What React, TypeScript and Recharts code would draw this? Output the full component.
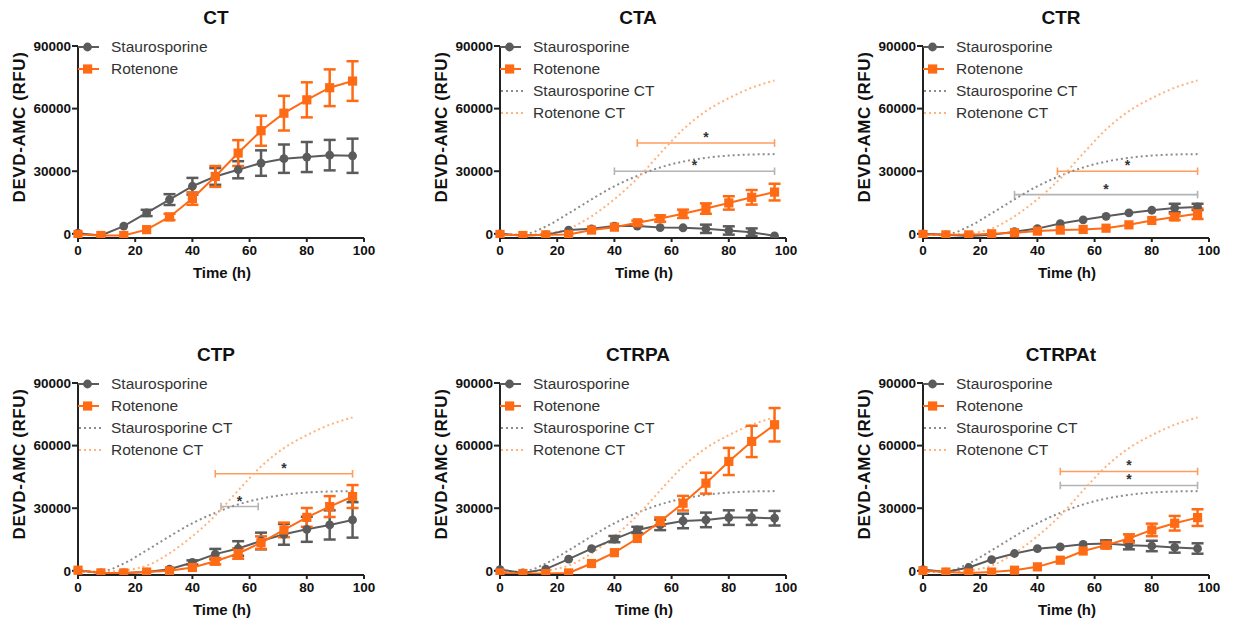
import React from 'react';
import { LineChart, Line, XAxis, YAxis, ErrorBar, ReferenceLine, Legend } from 'recharts';

const TIME = [0, 8, 16, 24, 32, 40, 48, 56, 64, 72, 80, 88, 96];

// dotted CT reference curves (fits of the CT panel)
const STAURO_CT_FIT = [-500, -300, 3500, 9800, 16500, 22800, 27800, 31800, 34600, 36400, 37500, 38000, 38200];
const ROT_CT_FIT = [-300, -400, 200, 2500, 8400, 16600, 26500, 38500, 50000, 58800, 65000, 70000, 73500];

const CT_S = [300, -800, 3700, 10000, 16400, 22800, 27500, 30700, 33900, 36000, 36800, 37700, 37400];
const CT_S_ERR = [0, 0, 0, 1500, 2600, 4000, 4000, 4100, 6100, 6800, 7200, 7300, 8200];
const CT_R = [-300, -800, -800, 2000, 8100, 16900, 27500, 38700, 49400, 57800, 64200, 70000, 73200];
const CT_R_ERR = [0, 0, 0, 0, 1500, 3000, 5000, 6200, 7200, 8300, 8400, 8800, 9500];

const CTA_S = [0, -800, -500, 1800, 2400, 3700, 3700, 3000, 2900, 2400, 1600, 800, -1000];
const CTA_S_ERR = [0, 0, 0, 0, 0, 0, 0, 0, 0, 2000, 2000, 1800, 0];
const CTA_R = [-300, -800, -500, -300, 1800, 3200, 5300, 7300, 9600, 12100, 14800, 17500, 20000];
const CTA_R_ERR = [0, 0, 0, 0, 0, 0, 1000, 1500, 2000, 2500, 3200, 3500, 4000];

const CTR_S = [0, -500, -1100, -500, 1000, 2500, 4900, 6700, 8400, 10000, 11300, 12400, 12900];
const CTR_S_ERR = [0, 0, 0, 0, 0, 0, 0, 0, 0, 0, 0, 2000, 1500];
const CTR_R = [-300, -500, -500, 0, 500, 1300, 1800, 2100, 2700, 4300, 6400, 8100, 9600];
const CTR_R_ERR = [0, 0, 0, 0, 0, 0, 0, 0, 0, 0, 0, 1500, 2500];

const CTP_S = [300, -1000, -1000, -600, 800, 4000, 8000, 10700, 14300, 17500, 19900, 22000, 24400];
const CTP_S_ERR = [0, 0, 0, 0, 0, 1000, 2500, 3500, 4000, 5000, 6000, 7000, 8500];
const CTP_R = [300, -1000, -1000, -600, 0, 1600, 4600, 8300, 13500, 19600, 25600, 30800, 35600];
const CTP_R_ERR = [0, 0, 0, 0, 0, 0, 1500, 2500, 3000, 3500, 4500, 5000, 5500];

const CTRPA_S = [600, -1000, 800, 5600, 10600, 15200, 19600, 22000, 23900, 24400, 25500, 25500, 25200];
const CTRPA_S_ERR = [0, 0, 0, 0, 0, 1500, 1500, 2500, 3500, 3500, 3500, 3500, 3500];
const CTRPA_R = [-1000, -1300, -1300, -1000, 3500, 8700, 15500, 23600, 32400, 42000, 52400, 62000, 70000];
const CTRPA_R_ERR = [0, 0, 0, 0, 0, 0, 0, 2000, 3500, 5000, 6500, 7500, 8000];

const CTRPAT_S = [600, -600, 1600, 5400, 8300, 10600, 11500, 12700, 13100, 12300, 11900, 11200, 10700];
const CTRPAT_S_ERR = [0, 0, 0, 0, 0, 0, 0, 0, 1500, 2000, 2500, 2500, 2500];
const CTRPAT_R = [0, -600, -1000, -600, 300, 1900, 5100, 9500, 12300, 15500, 19600, 22800, 25500];
const CTRPAT_R_ERR = [0, 0, 0, 0, 0, 0, 0, 0, 1500, 2000, 3000, 3500, 4000];

// significance brackets: [from, to, y]
const CTA_SIG_ROT = [48, 96, 43500];
const CTA_SIG_STAU = [40, 96, 30000];
const CTR_SIG_ROT = [47, 96, 30000];
const CTR_SIG_STAU = [32, 96, 18800];
const CTP_SIG_ROT = [48, 96, 46500];
const CTP_SIG_STAU = [50, 63, 30800];
const CTRPAT_SIG_ROT = [48, 96, 47600];
const CTRPAT_SIG_STAU = [48, 96, 40900];

const GRAY = '#5b5b5b';
const ORANGE = '#ff6a14';
const GRAY_CT = '#8c8c8c';
const ORANGE_CT = '#ffb27a';
const SIG_GRAY = '#b4b4b4';
const SIG_ORANGE = '#ff9d5c';
const FONT = '"Liberation Sans", Arial, Helvetica, sans-serif';

type Panel = {
  title: string;
  s: number[];
  sErr: number[];
  r: number[];
  rErr: number[];
  ct: boolean;
  sigs: { range: number[]; color: string }[];
  left: number;
  top: number;
};

const PANELS: Panel[] = [
  { title: 'CT', s: CT_S, sErr: CT_S_ERR, r: CT_R, rErr: CT_R_ERR, ct: false, sigs: [], left: 0, top: 0 },
  {
    title: 'CTA', s: CTA_S, sErr: CTA_S_ERR, r: CTA_R, rErr: CTA_R_ERR, ct: true,
    sigs: [{ range: CTA_SIG_ROT, color: SIG_ORANGE }, { range: CTA_SIG_STAU, color: SIG_GRAY }], left: 422, top: 0,
  },
  {
    title: 'CTR', s: CTR_S, sErr: CTR_S_ERR, r: CTR_R, rErr: CTR_R_ERR, ct: true,
    sigs: [{ range: CTR_SIG_ROT, color: SIG_ORANGE }, { range: CTR_SIG_STAU, color: SIG_GRAY }], left: 845, top: 0,
  },
  {
    title: 'CTP', s: CTP_S, sErr: CTP_S_ERR, r: CTP_R, rErr: CTP_R_ERR, ct: true,
    sigs: [{ range: CTP_SIG_ROT, color: SIG_ORANGE }, { range: CTP_SIG_STAU, color: SIG_GRAY }], left: 0, top: 337,
  },
  { title: 'CTRPA', s: CTRPA_S, sErr: CTRPA_S_ERR, r: CTRPA_R, rErr: CTRPA_R_ERR, ct: true, sigs: [], left: 422, top: 337 },
  {
    title: 'CTRPAt', s: CTRPAT_S, sErr: CTRPAT_S_ERR, r: CTRPAT_R, rErr: CTRPAT_R_ERR, ct: true,
    sigs: [{ range: CTRPAT_SIG_ROT, color: SIG_ORANGE }, { range: CTRPAT_SIG_STAU, color: SIG_GRAY }], left: 845, top: 337,
  },
];

const StauDot = (props: any) => {
  const { cx, cy, index } = props;
  if (cx == null || cy == null) return null;
  return <circle key={`s-${index}`} cx={cx} cy={cy} r={4.4} fill={GRAY} />;
};

const RotDot = (props: any) => {
  const { cx, cy, index } = props;
  if (cx == null || cy == null) return null;
  return <rect key={`r-${index}`} x={cx - 4.6} y={cy - 4.6} width={9.2} height={9.2} fill={ORANGE} />;
};

const legendItems = (ct: boolean) => {
  const items = [
    { label: 'Staurosporine', kind: 'circle' },
    { label: 'Rotenone', kind: 'square' },
  ];
  if (ct) {
    items.push({ label: 'Staurosporine CT', kind: 'dotGray' });
    items.push({ label: 'Rotenone CT', kind: 'dotOrange' });
  }
  return items;
};

const LegendBox = ({ ct }: { ct: boolean }) => (
  <div style={{ fontFamily: FONT }}>
    {legendItems(ct).map((it) => (
      <div key={it.label} style={{ height: 22, display: 'flex', alignItems: 'center' }}>
        <svg width={33} height={22} style={{ display: 'block' }}>
          {it.kind === 'circle' && (
            <g>
              <line x1={0} y1={11} x2={21} y2={11} stroke={GRAY} strokeWidth={2} />
              <circle cx={9.5} cy={11} r={4.4} fill={GRAY} />
            </g>
          )}
          {it.kind === 'square' && (
            <g>
              <line x1={0} y1={11} x2={21} y2={11} stroke={ORANGE} strokeWidth={2} />
              <rect x={5} y={6.4} width={9.2} height={9.2} fill={ORANGE} />
            </g>
          )}
          {it.kind === 'dotGray' && (
            <line x1={1} y1={11} x2={24} y2={11} stroke={GRAY_CT} strokeWidth={2} strokeDasharray="2 3" />
          )}
          {it.kind === 'dotOrange' && (
            <line x1={1} y1={11} x2={24} y2={11} stroke={ORANGE_CT} strokeWidth={2} strokeDasharray="2 3" />
          )}
        </svg>
        <span style={{ fontSize: 15.5, color: '#333', lineHeight: '22px', whiteSpace: 'nowrap' }}>{it.label}</span>
      </div>
    ))}
  </div>
);

const YLabel = () => (
  <text
    transform="translate(19,127) rotate(-90)"
    textAnchor="middle"
    dominantBaseline="central"
    fontFamily={FONT}
    fontWeight="bold"
    fontSize={17}
    letterSpacing={0.6}
    fill="#111"
  >
    DEVD-AMC (RFU)
  </text>
);

const XLabel = () => (
  <text x={222} y={278} textAnchor="middle" fontFamily={FONT} fontWeight="bold" fontSize={15} fill="#111">
    Time (h)
  </text>
);

const tickStyle = { fontFamily: FONT, fontWeight: 'bold', fontSize: 13.5, fill: '#111' };

const CAP = 1800;

const Chart = ({ p }: { p: Panel }) => {
  const data = TIME.map((t, i) => ({
    t,
    s: p.s[i],
    sErr: p.sErr[i],
    r: p.r[i],
    rErr: p.rErr[i],
    sCT: STAURO_CT_FIT[i],
    rCT: ROT_CT_FIT[i],
  }));
  return (
    <div style={{ position: 'absolute', left: p.left, top: p.top, width: 410, height: 286 }}>
      <div
        style={{
          position: 'absolute', left: 0, top: 7, width: 432, textAlign: 'center',
          fontFamily: FONT, fontWeight: 'bold', fontSize: 19, lineHeight: '22px', color: '#111',
        }}
      >
        {p.title}
      </div>
      <LineChart width={410} height={286} data={data} margin={{ top: 46, right: 46, bottom: 2, left: 20 }}>
        <XAxis
          dataKey="t"
          type="number"
          domain={[0, 100]}
          ticks={[0, 20, 40, 60, 80, 100]}
          height={46}
          tick={tickStyle}
          tickSize={4}
          tickMargin={3}
          axisLine={{ stroke: '#222', strokeWidth: 2 }}
          tickLine={{ stroke: '#222', strokeWidth: 2 }}
          label={{ content: <XLabel /> }}
        />
        <YAxis
          type="number"
          domain={[-2000, 90000]}
          ticks={[0, 30000, 60000, 90000]}
          width={58}
          tick={tickStyle}
          tickSize={6}
          tickMargin={1}
          allowDataOverflow
          axisLine={{ stroke: '#222', strokeWidth: 2 }}
          tickLine={{ stroke: '#222', strokeWidth: 2 }}
          label={{ content: <YLabel /> }}
        />
        <Legend
          layout="vertical"
          align="center"
          verticalAlign="middle"
          wrapperStyle={{ left: 78, top: 36, width: 'auto' }}
          content={() => <LegendBox ct={p.ct} />}
        />
        {p.sigs.map((sg, k) => (
          <ReferenceLine
            key={`sig-${k}`}
            segment={[{ x: sg.range[0], y: sg.range[2] }, { x: sg.range[1], y: sg.range[2] }]}
            stroke={sg.color}
            strokeWidth={1.6}
            label={{ value: '*', position: 'top', offset: 1, fill: '#333', fontSize: 14, fontWeight: 'bold', fontFamily: FONT }}
          />
        ))}
        {p.sigs.map((sg, k) => (
          <ReferenceLine
            key={`capl-${k}`}
            segment={[{ x: sg.range[0], y: sg.range[2] - CAP }, { x: sg.range[0], y: sg.range[2] + CAP }]}
            stroke={sg.color}
            strokeWidth={1.6}
          />
        ))}
        {p.sigs.map((sg, k) => (
          <ReferenceLine
            key={`capr-${k}`}
            segment={[{ x: sg.range[1], y: sg.range[2] - CAP }, { x: sg.range[1], y: sg.range[2] + CAP }]}
            stroke={sg.color}
            strokeWidth={1.6}
          />
        ))}
        {p.ct && (
          <Line
            dataKey="sCT"
            type="monotone"
            stroke={GRAY_CT}
            strokeWidth={2}
            strokeDasharray="2 3"
            dot={false}
            isAnimationActive={false}
          />
        )}
        {p.ct && (
          <Line
            dataKey="rCT"
            type="monotone"
            stroke={ORANGE_CT}
            strokeWidth={2}
            strokeDasharray="2 3"
            dot={false}
            isAnimationActive={false}
          />
        )}
        <Line dataKey="s" type="linear" stroke={GRAY} strokeWidth={2} dot={StauDot} activeDot={false} isAnimationActive={false}>
          <ErrorBar dataKey="sErr" direction="y" width={6} strokeWidth={2.5} stroke={GRAY} />
        </Line>
        <Line dataKey="r" type="linear" stroke={ORANGE} strokeWidth={2} dot={RotDot} activeDot={false} isAnimationActive={false}>
          <ErrorBar dataKey="rErr" direction="y" width={6} strokeWidth={2.5} stroke={ORANGE} />
        </Line>
      </LineChart>
    </div>
  );
};

export default function App() {
  return (
    <div style={{ position: 'absolute', left: 0, top: 0, width: 1233, height: 623, overflow: 'hidden', background: '#fff' }}>
      {PANELS.map((p) => (
        <Chart key={p.title} p={p} />
      ))}
    </div>
  );
}
